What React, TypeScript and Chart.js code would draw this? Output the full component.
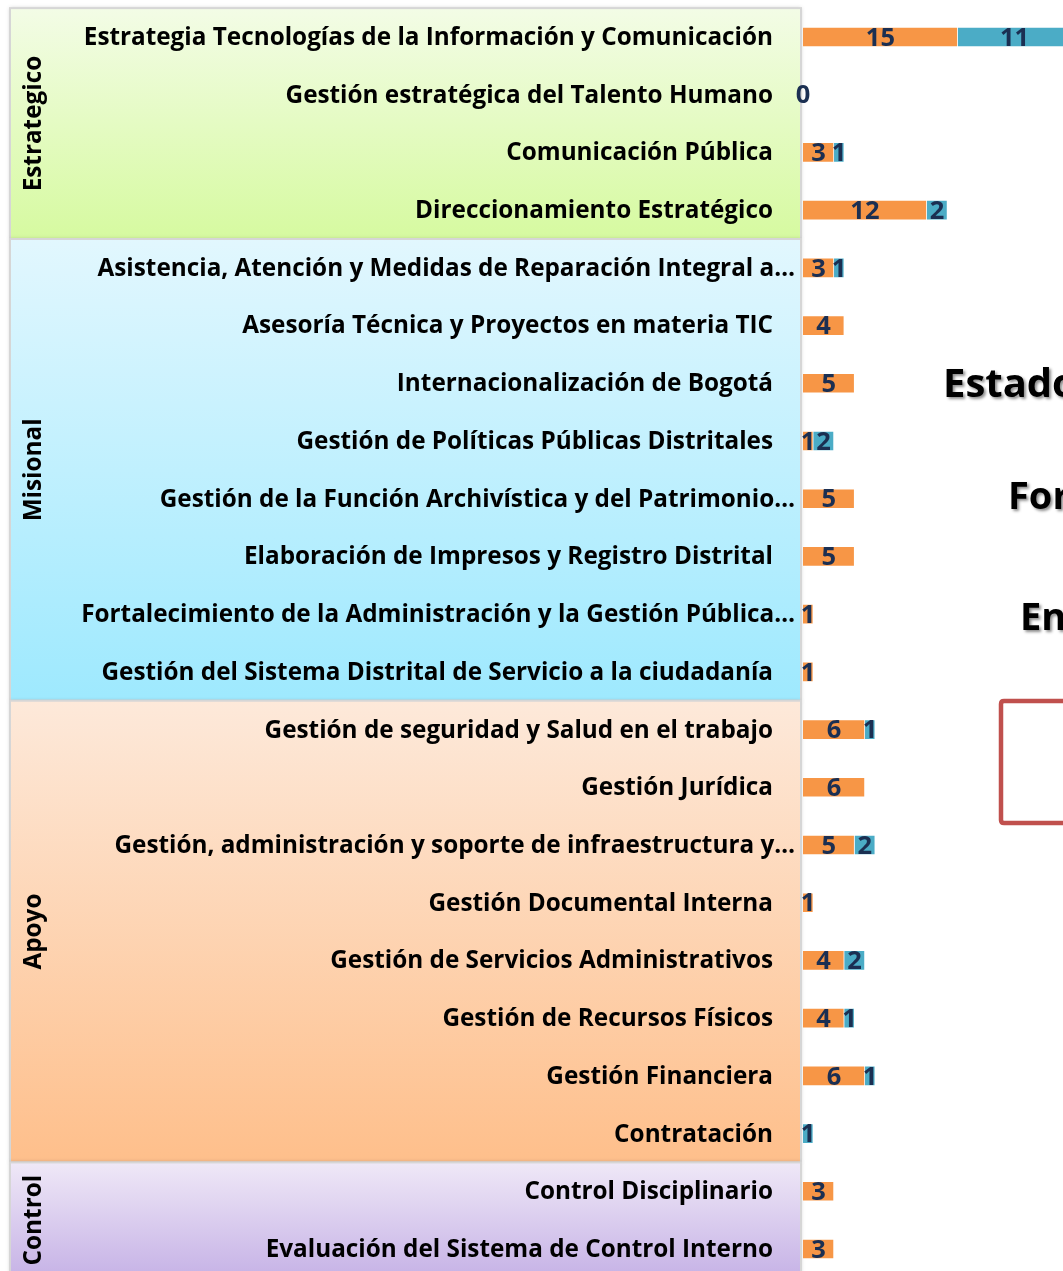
import React, { useEffect, useRef } from "react";
import { Chart, registerables } from "chart.js";

Chart.register(...registerables);

const categories: string[] = [
  "Estrategia Tecnologías de la Información y Comunicación",
  "Gestión estratégica del Talento Humano",
  "Comunicación Pública",
  "Direccionamiento Estratégico",
  "Asistencia, Atención y Medidas de Reparación Integral a…",
  "Asesoría Técnica y Proyectos en materia TIC",
  "Internacionalización de Bogotá",
  "Gestión de Políticas Públicas Distritales",
  "Gestión de la Función Archivística y del Patrimonio…",
  "Elaboración de Impresos y Registro Distrital",
  "Fortalecimiento de la Administración y la Gestión Pública…",
  "Gestión del Sistema Distrital de Servicio a la ciudadanía",
  "Gestión de seguridad y Salud en el trabajo",
  "Gestión Jurídica",
  "Gestión, administración y soporte de infraestructura y…",
  "Gestión Documental Interna",
  "Gestión de Servicios Administrativos",
  "Gestión de Recursos Físicos",
  "Gestión Financiera",
  "Contratación",
  "Control Disciplinario",
  "Evaluación del Sistema de Control Interno",
];

const groupNames: string[] = ["Estrategico", "Misional", "Apoyo", "Control"];
const groupSizes: number[] = [4, 8, 8, 2];
const groupColors: [string, string][] = [
  ["#F3FCE6", "#D6FAA0"],
  ["#E2F7FE", "#9EE9FE"],
  ["#FDE9DA", "#FEBF8B"],
  ["#EFE8F7", "#C6B2E6"],
];

const seriesOrange: (number | null)[] = [
  15, 0, 3, 12, 3, 4, 5, 1, 5, 5, 1, 1, 6, 6, 5, 1, 4, 4, 6, null, 3, 3,
];
const seriesBlue: (number | null)[] = [
  11, null, 1, 2, 1, null, null, 2, null, null, null, null, 1, null, 2, null, 2, 1, 1, 1, null, null,
];

const titleLines: string[] = ["Estado", "For", "En"];

const FONT = "'Open Sans', Lato, sans-serif";
const FS = 24.3;
const FS_VAL = 25.5;

const panelsPlugin = {
  id: "panels",
  beforeDatasetsDraw(chart: any) {
    const ctx = chart.ctx;
    const y = chart.scales.y;
    const band = y.getPixelForValue(1) - y.getPixelForValue(0);
    let idx = 0;
    const left = 10;
    const right = 801;
    groupNames.forEach((name, gi) => {
      const n = groupSizes[gi];
      const top = y.getPixelForValue(idx) - band / 2;
      const bottom = y.getPixelForValue(idx + n - 1) + band / 2;
      ctx.save();
      const grad = ctx.createLinearGradient(0, top, 0, bottom);
      grad.addColorStop(0, groupColors[gi][0]);
      grad.addColorStop(1, groupColors[gi][1]);
      ctx.shadowColor = "rgba(0,0,0,0.22)";
      ctx.shadowBlur = 4;
      ctx.fillStyle = grad;
      ctx.fillRect(left, top, right - left, bottom - top);
      ctx.shadowColor = "transparent";
      ctx.strokeStyle = "#D6D6D6";
      ctx.lineWidth = 2;
      ctx.strokeRect(left, top, right - left, bottom - top);
      ctx.restore();

      ctx.save();
      ctx.translate(34, (top + bottom) / 2);
      ctx.rotate(-Math.PI / 2);
      ctx.font = `bold ${FS}px ${FONT}`;
      ctx.fillStyle = "#000";
      ctx.textAlign = "center";
      ctx.textBaseline = "middle";
      ctx.fillText(name, 0, 0);
      ctx.restore();

      idx += n;
    });

    ctx.save();
    ctx.font = `bold ${FS}px ${FONT}`;
    ctx.fillStyle = "#000";
    ctx.textAlign = "right";
    ctx.textBaseline = "middle";
    categories.forEach((c, i) => {
      const py = y.getPixelForValue(i) + 1;
      const rx = c.endsWith("…") ? 795 : 773;
      ctx.fillText(c, rx, py);
    });
    ctx.restore();
  },
};

const labelsPlugin = {
  id: "barLabels",
  afterDatasetsDraw(chart: any) {
    const ctx = chart.ctx;
    ctx.save();
    ctx.font = `bold ${FS_VAL}px ${FONT}`;
    ctx.fillStyle = "#1B2F52";
    ctx.textAlign = "center";
    ctx.textBaseline = "middle";
    chart.data.datasets.forEach((ds: any, di: number) => {
      const meta = chart.getDatasetMeta(di);
      meta.data.forEach((el: any, i: number) => {
        const v = ds.data[i];
        if (v === null || v === undefined) return;
        const x = (el.x + el.base) / 2;
        ctx.fillText(String(v), x, el.y + 1.5);
      });
    });
    ctx.restore();

    ctx.save();
    ctx.fillStyle = "#000";
    ctx.textAlign = "left";
    ctx.textBaseline = "middle";
    ctx.shadowColor = "rgba(0,0,0,0.45)";
    ctx.shadowBlur = 3;
    ctx.shadowOffsetX = 2;
    ctx.shadowOffsetY = 2;
    ctx.font = `bold 40px ${FONT}`;
    ctx.fillText(titleLines[0], 943, 386);
    ctx.font = `bold 38px ${FONT}`;
    ctx.fillText(titleLines[1], 1008, 498);
    ctx.fillText(titleLines[2], 1020, 619);
    ctx.restore();

    ctx.save();
    ctx.strokeStyle = "#C0504D";
    ctx.lineWidth = 4.5;
    ctx.beginPath();
    const x0 = 1001, y0 = 701, x1 = 1120, y1 = 823, r = 3;
    ctx.moveTo(x1, y0);
    ctx.lineTo(x0 + r, y0);
    ctx.quadraticCurveTo(x0, y0, x0, y0 + r);
    ctx.lineTo(x0, y1 - r);
    ctx.quadraticCurveTo(x0, y1, x0 + r, y1);
    ctx.lineTo(x1, y1);
    ctx.stroke();
    ctx.restore();
  },
};

export default function App() {
  const ref = useRef<HTMLCanvasElement | null>(null);

  useEffect(() => {
    if (!ref.current) return;
    const chart = new Chart(ref.current, {
      type: "bar",
      data: {
        labels: categories,
        datasets: [
          {
            label: "Serie 1",
            data: seriesOrange as any,
            backgroundColor: "#F79646",
            borderColor: "rgba(255,255,255,0.45)",
            borderWidth: 1,
            barThickness: 20,
          },
          {
            label: "Serie 2",
            data: seriesBlue as any,
            backgroundColor: "#4BACC6",
            borderColor: "rgba(255,255,255,0.45)",
            borderWidth: 1,
            barThickness: 20,
          },
        ],
      },
      options: {
        indexAxis: "y",
        responsive: false,
        animation: false,
        devicePixelRatio: 1,
        layout: { padding: { left: 803, right: 0, top: 8.14, bottom: 22.14 } },
        plugins: {
          legend: { display: false },
          tooltip: { enabled: false },
          title: { display: false },
        },
        scales: {
          x: { display: false, stacked: true, min: 0, max: 25.2 },
          y: { display: false, stacked: true },
        },
      },
      plugins: [panelsPlugin, labelsPlugin],
    });
    return () => chart.destroy();
  }, []);

  return (
    <div
      style={{
        position: "absolute",
        left: 0,
        top: 0,
        width: 1063,
        height: 1271,
        overflow: "hidden",
        background: "#fff",
      }}
    >
      <canvas ref={ref} width={1063} height={1300} style={{ display: "block" }} />
    </div>
  );
}
